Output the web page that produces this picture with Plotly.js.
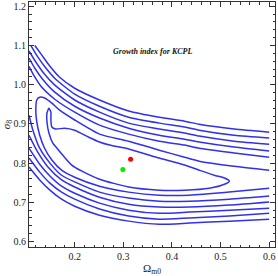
<!DOCTYPE html>
<html><head><meta charset="utf-8">
<script src="https://cdn.plot.ly/plotly-3.0.1.min.js"></script>
<style>html,body{margin:0;padding:0;background:#fff}#c{width:278px;height:276px}</style>
</head><body><div id="c"></div>
<script>
// Contour lines (Omega_m0, sigma8)
const u1x=[0.118,0.132,0.149,0.169,0.200,0.251,0.311,0.374,0.426,0.456,0.528,0.600];
const u1y=[1.100,1.076,1.047,1.019,0.991,0.961,0.933,0.917,0.907,0.899,0.887,0.879];
const u2x=[0.110,0.124,0.141,0.161,0.200,0.251,0.311,0.374,0.426,0.456,0.528,0.600];
const u2y=[1.100,1.071,1.042,1.014,0.976,0.945,0.917,0.902,0.892,0.884,0.871,0.864];
const u3x=[0.106,0.120,0.136,0.159,0.200,0.251,0.311,0.374,0.426,0.456,0.528,0.600];
const u3y=[1.086,1.058,1.030,0.999,0.961,0.930,0.902,0.887,0.877,0.869,0.856,0.848];
const u4x=[0.106,0.118,0.134,0.159,0.200,0.251,0.311,0.374,0.426,0.456,0.528,0.600];
const u4y=[1.068,1.042,1.014,0.981,0.945,0.915,0.889,0.871,0.861,0.854,0.841,0.831];
const u5x=[0.106,0.116,0.132,0.159,0.200,0.251,0.311,0.374,0.426,0.456,0.528,0.600];
const u5y=[1.047,1.024,0.994,0.963,0.930,0.897,0.874,0.856,0.846,0.838,0.826,0.815];
const c6x=[0.600,0.528,0.456,0.426,0.374,0.311,0.251,0.200,0.169,0.153,0.138,0.128,0.122,0.120,0.122,0.128,0.138,0.153,0.173,0.200,0.251,0.311,0.374,0.436,0.518,0.600];
const c6y=[0.782,0.792,0.805,0.815,0.833,0.856,0.874,0.910,0.935,0.953,0.966,0.968,0.961,0.935,0.905,0.871,0.838,0.808,0.782,0.764,0.741,0.726,0.718,0.718,0.726,0.736];
const c7x=[0.147,0.151,0.151,0.153,0.161,0.179,0.200,0.229,0.251,0.272,0.311,0.374,0.426,0.456,0.487,0.508,0.518,0.508,0.477,0.426,0.374,0.311,0.251,0.214,0.194,0.177,0.165,0.155,0.147,0.143,0.143,0.147];
const c7y=[0.940,0.930,0.910,0.892,0.887,0.889,0.884,0.866,0.854,0.846,0.836,0.813,0.795,0.782,0.769,0.762,0.754,0.746,0.736,0.731,0.731,0.739,0.759,0.780,0.795,0.818,0.836,0.851,0.877,0.905,0.928,0.940];
const l5x=[0.106,0.114,0.128,0.149,0.173,0.200,0.251,0.311,0.374,0.436,0.518,0.600];
const l5y=[0.922,0.884,0.838,0.800,0.769,0.752,0.726,0.711,0.703,0.703,0.708,0.716];
const l4x=[0.106,0.124,0.145,0.173,0.200,0.251,0.311,0.374,0.436,0.518,0.600];
const l4y=[0.871,0.828,0.790,0.757,0.739,0.713,0.695,0.688,0.688,0.693,0.701];
const lx=[0.106,0.128,0.149,0.173,0.200,0.251,0.311,0.374,0.436,0.518,0.600];
const l3y=[0.838,0.797,0.767,0.741,0.723,0.698,0.680,0.672,0.675,0.680,0.685];
const l2y=[0.813,0.777,0.749,0.726,0.708,0.683,0.665,0.657,0.660,0.665,0.672];
const l1y=[0.790,0.757,0.731,0.708,0.690,0.667,0.652,0.644,0.647,0.652,0.657];
const redPt={x:[0.315],y:[0.810]};
const greenPt={x:[0.299],y:[0.784]};
const xTicks=[0.2,0.3,0.4,0.5,0.6];
const yTicks=[0.6,0.7,0.8,0.9,1.0,1.1,1.2];

const blue='#3030ee';
const lines=[[u1x,u1y],[u2x,u2y],[u3x,u3y],[u4x,u4y],[u5x,u5y],[c6x,c6y],[c7x,c7y],
  [l5x,l5y],[l4x,l4y],[lx,l3y],[lx,l2y],[lx,l1y]];
const traces=lines.map(([x,y])=>({x:x,y:y,type:'scatter',mode:'lines',
  line:{color:blue,width:1.5,shape:'spline',smoothing:0.6},hoverinfo:'skip',showlegend:false}));
traces.push({x:redPt.x,y:redPt.y,type:'scatter',mode:'markers',marker:{color:'#ff0000',size:5},showlegend:false});
traces.push({x:greenPt.x,y:greenPt.y,type:'scatter',mode:'markers',marker:{color:'#00ee00',size:5},showlegend:false});

const fnt={family:'Liberation Serif, Times New Roman, serif',size:10,color:'#222'};
const axBase={showgrid:false,zeroline:false,showline:true,linecolor:'#333',linewidth:1,
  mirror:'allticks',ticks:'inside',ticklen:5,tickwidth:1,tickcolor:'#333',tickfont:fnt,
  minor:{ticks:'inside',ticklen:2.5,tickcolor:'#333',dtick:0.02,tickwidth:1}};
const layout={width:278,height:276,margin:{l:29,r:3,t:2,b:29},paper_bgcolor:'#fff',plot_bgcolor:'#fff',
  showlegend:false,
  xaxis:Object.assign({},axBase,{range:[0.106,0.612],tickvals:xTicks,ticktext:xTicks.map(v=>v.toFixed(1)),
    title:{text:'Ω<sub>m0</sub>',font:{family:'Liberation Serif, serif',size:11,color:'#222'},standoff:4}}),
  yaxis:Object.assign({},axBase,{range:[0.586,1.211],tickvals:yTicks,ticktext:yTicks.map(v=>v.toFixed(1)),
    title:{text:'<i>σ</i><sub>8</sub>',font:{family:'Liberation Serif, serif',size:11,color:'#222'},standoff:2}}),
  annotations:[{text:'<b><i>Growth index for KCPL</i></b>',xref:'paper',yref:'paper',x:0.504,y:0.824,
    showarrow:false,font:{family:'Liberation Serif, serif',size:8,color:'#111'}}]
};
Plotly.newPlot('c',traces,layout,{displayModeBar:false,staticPlot:true});
</script></body></html>
